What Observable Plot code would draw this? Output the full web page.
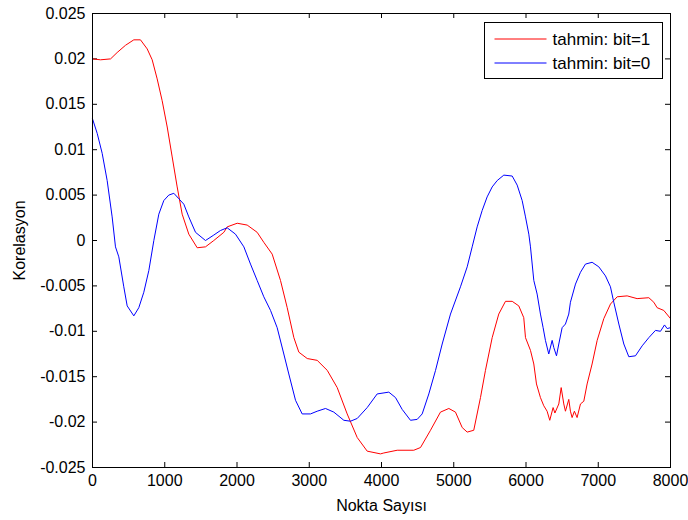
<!DOCTYPE html>
<html>
<head>
<meta charset="utf-8">
<script src="https://cdn.jsdelivr.net/npm/d3@7"></script>
<script src="https://cdn.jsdelivr.net/npm/@observablehq/plot@0.6"></script>
<style>
  body { margin: 0; background: #fff; }
  #chart { position: relative; width: 688px; height: 520px; }
</style>
</head>
<body>
<div id="chart"></div>
<script>
const xTicks = [0, 1000, 2000, 3000, 4000, 5000, 6000, 7000, 8000];
const yTicks = [0.025, 0.02, 0.015, 0.01, 0.005, 0, -0.005, -0.01, -0.015, -0.02, -0.025];
const seriesNames = ["tahmin: bit=1", "tahmin: bit=0"];
const seriesColors = ["#ff0000", "#0000ff"];
const xLabel = "Nokta Sayısı";
const yLabel = "Korelasyon";

const redX = [0,111,250,341,457,572,664,757,826,895,964,1034,1103,1172,1241,1333,1449,1564,1679,1818,1864,2003,2141,2279,2371,2487,2602,2695,2787,2856,2972,3110,3249,3387,3525,3664,3802,3986,4032,4217,4447,4540,4678,4816,4932,5024,5117,5186,5277,5370,5439,5532,5623,5716,5809,5900,5969,5993,6062,6108,6145,6200,6246,6292,6329,6375,6400,6454,6487,6523,6546,6592,6615,6638,6670,6707,6754,6800,6846,6915,6985,7077,7169,7262,7400,7538,7700,7769,7815,7907,8000];
const redY = [0.0200,0.0199,0.0200,0.0207,0.0215,0.0221,0.0221,0.0211,0.0199,0.0178,0.0154,0.0125,0.0092,0.0059,0.0029,0.0007,-0.0008,-0.0007,0.0000,0.0009,0.0015,0.0019,0.0017,0.0009,-0.0002,-0.0015,-0.0044,-0.0074,-0.0107,-0.0123,-0.0130,-0.0132,-0.0143,-0.0162,-0.0191,-0.0217,-0.0232,-0.0235,-0.0234,-0.0231,-0.0231,-0.0228,-0.0209,-0.0189,-0.0185,-0.0189,-0.0206,-0.0211,-0.0209,-0.0173,-0.0143,-0.0107,-0.0081,-0.0067,-0.0067,-0.0072,-0.0085,-0.0107,-0.0121,-0.0136,-0.0158,-0.0173,-0.0182,-0.0188,-0.0198,-0.0184,-0.0190,-0.0180,-0.0162,-0.0180,-0.0188,-0.0175,-0.0188,-0.0195,-0.0188,-0.0195,-0.0180,-0.0177,-0.0158,-0.0136,-0.0110,-0.0086,-0.0070,-0.0062,-0.0061,-0.0064,-0.0063,-0.0068,-0.0074,-0.0077,-0.0086];

const blueX = [0,65,134,203,272,318,364,433,480,572,641,710,780,849,918,987,1056,1126,1195,1264,1333,1426,1564,1679,1771,1864,1979,2095,2187,2279,2371,2464,2556,2648,2717,2810,2902,3017,3110,3225,3340,3479,3571,3664,3802,3940,4101,4194,4286,4401,4494,4563,4655,4748,4840,4955,5093,5186,5255,5324,5393,5462,5532,5601,5693,5809,5878,5947,5993,6039,6062,6108,6154,6200,6237,6269,6315,6362,6385,6422,6454,6500,6546,6592,6615,6685,6754,6823,6915,7008,7100,7169,7215,7285,7354,7423,7515,7608,7700,7792,7861,7917,7954,8000];
const blueY = [0.0134,0.0118,0.0096,0.0066,0.0026,-0.0007,-0.0018,-0.0051,-0.0072,-0.0083,-0.0074,-0.0057,-0.0033,0.0000,0.0029,0.0044,0.0050,0.0052,0.0046,0.0040,0.0026,0.0009,0.0000,0.0006,0.0011,0.0014,0.0007,-0.0007,-0.0026,-0.0044,-0.0062,-0.0077,-0.0096,-0.0125,-0.0147,-0.0176,-0.0191,-0.0191,-0.0188,-0.0185,-0.0189,-0.0198,-0.0199,-0.0196,-0.0184,-0.0169,-0.0167,-0.0173,-0.0186,-0.0198,-0.0197,-0.0191,-0.0169,-0.0143,-0.0114,-0.0081,-0.0051,-0.0029,-0.0007,0.0015,0.0033,0.0048,0.0059,0.0066,0.0072,0.0071,0.0061,0.0044,0.0026,0.0007,-0.0007,-0.0044,-0.0059,-0.0081,-0.0096,-0.0110,-0.0125,-0.0110,-0.0118,-0.0127,-0.0114,-0.0096,-0.0092,-0.0081,-0.0068,-0.0048,-0.0035,-0.0026,-0.0024,-0.0029,-0.0039,-0.0051,-0.0068,-0.0092,-0.0114,-0.0128,-0.0127,-0.0116,-0.0107,-0.0099,-0.0100,-0.0093,-0.0097,-0.0096];

const red = redX.map((x, i) => ({x, y: redY[i]}));
const blue = blueX.map((x, i) => ({x, y: blueY[i]}));

const W = 688, H = 520;
const mL = 92, mR = 18, mT = 13, mB = 53;
const innerW = W - mL - mR, innerH = H - mT - mB;
const tickLen = 5;
const fmt = d => String(d);
const FONT = "'Liberation Sans', Arial, sans-serif";

const chart = Plot.plot({
  width: W, height: H,
  marginLeft: mL, marginRight: mR, marginTop: mT, marginBottom: mB,
  style: {fontFamily: FONT, fontSize: "16px", background: "#fff", color: "#000"},
  x: {domain: [0, 8000]},
  y: {domain: [-0.025, 0.025]},
  marks: [
    Plot.axisX(xTicks, {tickSize: 0, tickPadding: 7, tickFormat: fmt, label: xLabel, labelArrow: "none", labelAnchor: "center", labelOffset: 43, fontSize: 16}),
    Plot.axisY(yTicks, {tickSize: 0, tickPadding: 7, tickFormat: fmt, label: yLabel, labelArrow: "none", labelAnchor: "center", labelOffset: 79, fontSize: 16}),
    Plot.tickX(xTicks, {x: d => d, insetTop: innerH - tickLen, stroke: "#000"}),
    Plot.tickX(xTicks, {x: d => d, insetBottom: innerH - tickLen, stroke: "#000"}),
    Plot.tickY(yTicks, {y: d => d, insetRight: innerW - tickLen, stroke: "#000"}),
    Plot.tickY(yTicks, {y: d => d, insetLeft: innerW - tickLen, stroke: "#000"}),
    Plot.line(red, {x: "x", y: "y", stroke: seriesColors[0], strokeWidth: 1}),
    Plot.line(blue, {x: "x", y: "y", stroke: seriesColors[1], strokeWidth: 1}),
    Plot.frame({stroke: "#000"})
  ]
});

document.getElementById("chart").appendChild(chart);

// Legend box (inside the axes, top-right, MATLAB style)
const svg = d3.select(chart);
const lg = svg.append("g").attr("transform", "translate(484.5,22.5)");
lg.append("rect").attr("width", 178).attr("height", 56).attr("fill", "#fff").attr("stroke", "#000");
seriesNames.forEach((name, i) => {
  const yy = 16.5 + i * 24;
  lg.append("line").attr("x1", 10).attr("x2", 62).attr("y1", yy).attr("y2", yy)
    .attr("stroke", seriesColors[i]).attr("stroke-width", 1);
  lg.append("text").attr("x", 68).attr("y", yy).attr("dy", "0.35em")
    .attr("text-anchor", "start")
    .attr("font-family", FONT).attr("font-size", 17)
    .attr("fill", "#000").text(name);
});
</script>
</body>
</html>
